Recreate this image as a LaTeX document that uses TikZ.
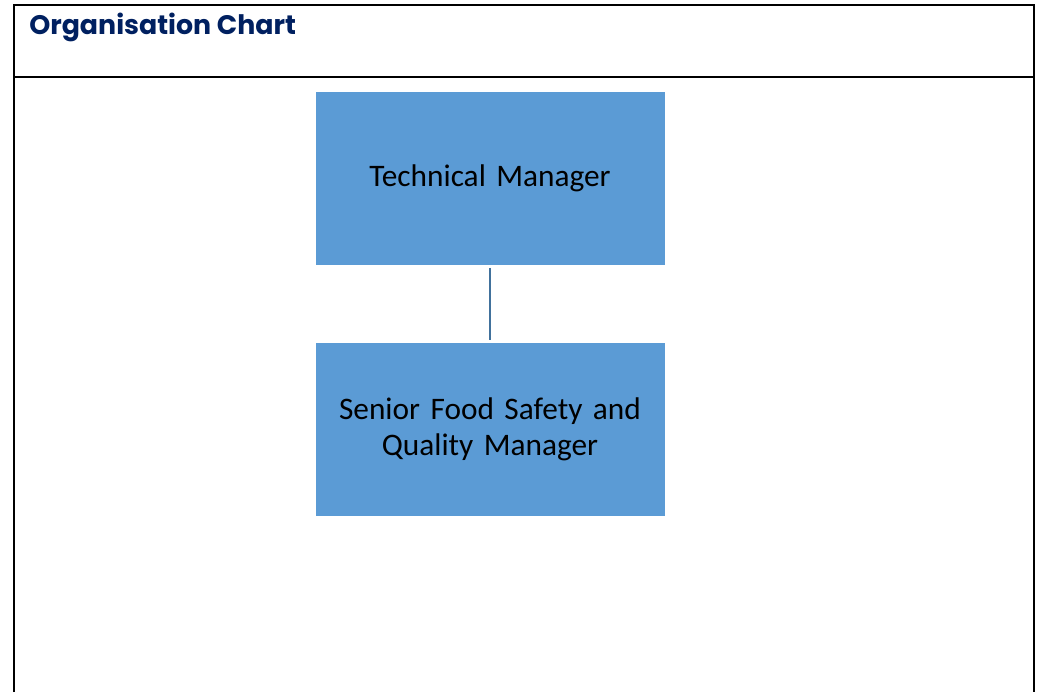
\documentclass[tikz,border=0pt]{standalone}
\usepackage{fontspec}
\setmainfont{Carlito}
\newfontfamily\titlefont{Poppins}
\usetikzlibrary{positioning}

\definecolor{boxblue}{HTML}{5B9BD5}
\definecolor{lineblue}{HTML}{41719C}
\definecolor{navy}{HTML}{002060}

\tikzset{
	rolebox/.style={fill=boxblue, draw=none, minimum width=261.75pt, minimum height=129.75pt,
		align=center, text width=250pt, font=\fontsize{23.5pt}{27pt}\selectfont},
	link/.style={draw=lineblue, line width=1.6pt, shorten <=2pt, shorten >=2pt},
	frame/.style={line width=2pt, black}
}

\begin{document}
\begin{tikzpicture}[x=0.75pt,y=-0.75pt]
		\useasboundingbox (0,0) rectangle (1037,692);
		% outer frame and header
		\draw[frame] (14,692) -- (14,5) -- (1034,5) -- (1034,692);
		\draw[frame] (14,77) -- (1034,77);
		\node[anchor=base west, inner sep=0pt, text=navy, font=\titlefont\bfseries\fontsize{20.1pt}{24pt}\selectfont] (title) at (29,35) {Organisation Chart};
		% chart
		\node[rolebox] (tech) at (490,178.5) {Technical Manager};
		\node[rolebox, below=57.75pt of tech] (fsqm) {Senior Food Safety and\\Quality Manager};
		\draw[link] (tech) -- (fsqm);
	\end{tikzpicture}
\end{document}
